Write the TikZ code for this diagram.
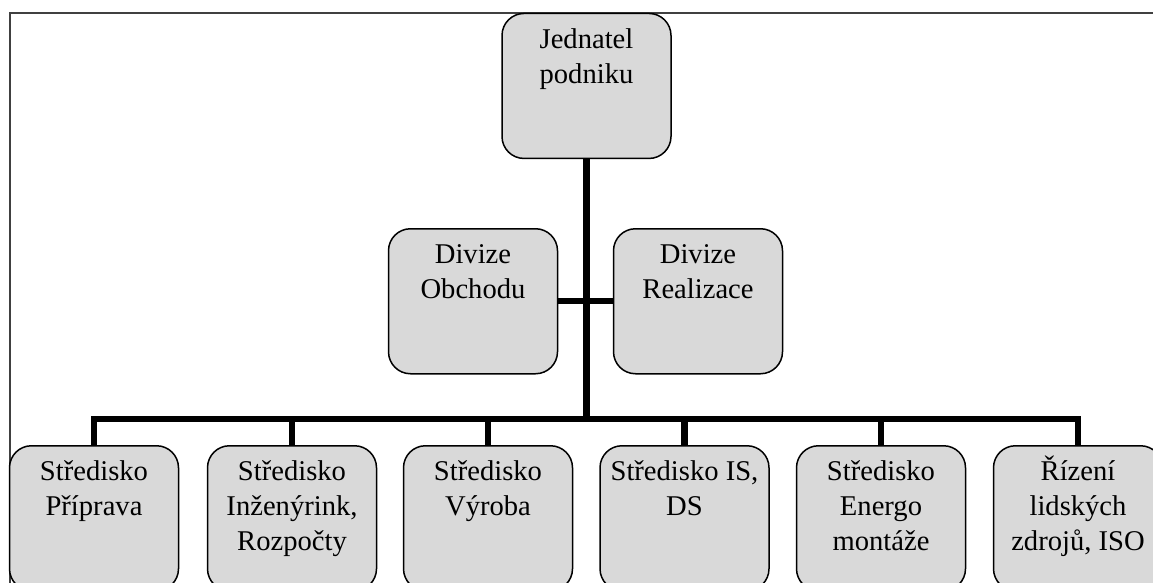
\documentclass[tikz,border=0pt]{standalone}
\usepackage{fontspec}
\setmainfont{Liberation Serif}
\definecolor{boxfill}{RGB}{217,217,217}
\definecolor{framecol}{RGB}{64,64,64}
\tikzset{
  orgbox/.style={draw=black, line width=1.5pt, fill=boxfill, rounded corners=22pt, inner sep=0pt, anchor=north,
    font=\fontsize{28.6}{35}\selectfont},
  conn/.style={line width=6.8pt, black, line cap=butt, line join=miter}
}
\newcommand{\boxtext}[1]{\parbox[t][145pt][t]{169pt}{\centering\rule{0pt}{35pt}#1}}
\begin{document}
\begin{tikzpicture}[x=1pt,y=-1pt]
\useasboundingbox (0,0) rectangle (1153,583);
\clip (0,0) rectangle (1153,583);
\draw[framecol, line width=2pt] (10,620) -- (10,12.7) -- (1200,12.7);
\node[orgbox] (top) at (586.5,12.7) {\boxtext{Jednatel\\podniku}};
\node[orgbox] (obch) at (473,228) {\boxtext{Divize\\Obchodu}};
\node[orgbox] (real) at (698,228) {\boxtext{Divize\\Realizace}};
\node[orgbox] (s1) at (94,445) {\boxtext{Středisko\\Příprava}};
\node[orgbox] (s2) at (292,445) {\boxtext{Středisko\\Inženýrink,\\Rozpočty}};
\node[orgbox] (s3) at (488,445) {\boxtext{Středisko\\Výroba}};
\node[orgbox] (s4) at (684.5,445) {\boxtext{Středisko IS,\\DS}};
\node[orgbox] (s5) at (881,445) {\boxtext{Středisko\\Energo\\montáže}};
\node[orgbox] (s6) at (1078,445) {\boxtext{Řízení\\lidských\\zdrojů, ISO}};
\coordinate (bus) at (587,419);
\draw[conn] (top.south) -- (top.south |- bus);
\draw[conn] (obch.east |- 0,301) -- (real.west |- 0,301);
\draw[conn] (s1.north) |- (bus) -| (s6.north);
\draw[conn] (s2.north) -- (s2.north |- bus);
\draw[conn] (s3.north) -- (s3.north |- bus);
\draw[conn] (s4.north) -- (s4.north |- bus);
\draw[conn] (s5.north) -- (s5.north |- bus);
\end{tikzpicture}
\end{document}
